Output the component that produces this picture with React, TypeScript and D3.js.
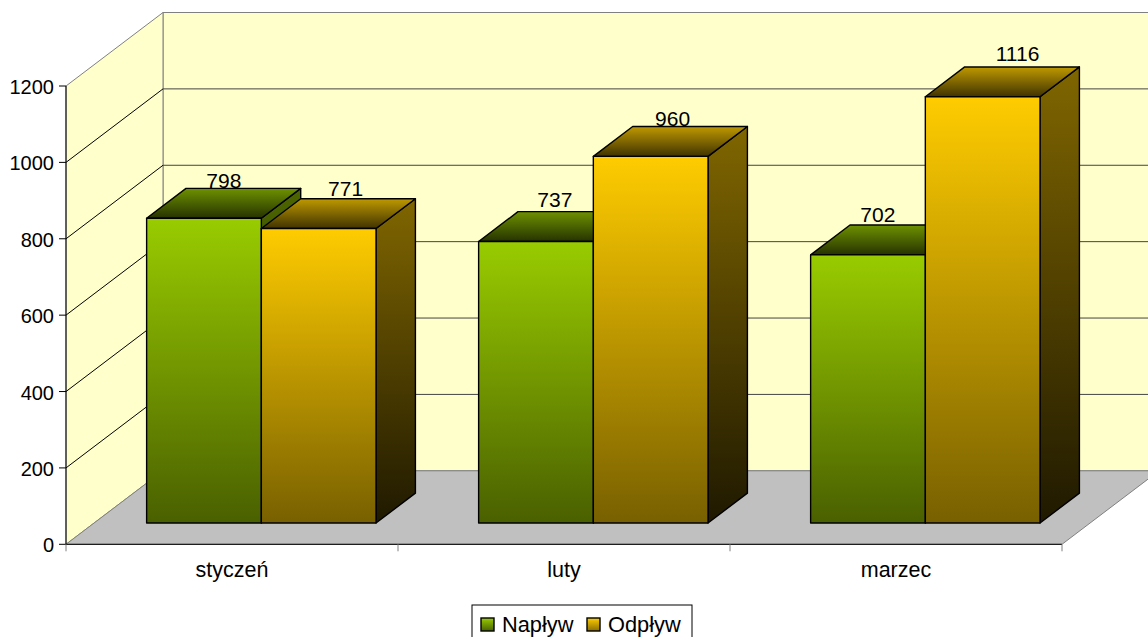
import React from "react";
import * as d3 from "d3";

const categories = ["styczeń", "luty", "marzec"];
const seriesNames = ["Napływ", "Odpływ"];
const napływ = [798, 737, 702];
const odpływ = [771, 960, 1116];
const yTicks = [0, 200, 400, 600, 800, 1000, 1200];
const labelNudgeX = [[0, 7], [-1, 2], [-10, 15]];
const labelNudgeY = [[0, -2], [-4, 0], [-3, -5]];

const W = 1148, H = 637;
const y = d3.scaleLinear().domain([0, 1200]).range([544.3, 86]);
const xBand = d3.scaleBand<string>().domain(categories).range([66, 1062]);
const depthX = d3.scaleLinear().domain([0, 1]).range([0, 97]);
const depthY = d3.scaleLinear().domain([0, 1]).range([0, -73.5]);
const barW = 114.7;
const barShift = 1.2;
const zFront = 0.29, zBack = 0.696;

type P = [number, number];
const proj = (x: number, v: number, z: number): P => [x + depthX(z), y(v) + depthY(z)];
const poly = d3.line<P>().x(d => d[0]).y(d => d[1]);
const path = (pts: P[]) => poly(pts) + "Z";

const palette = [
  { front: ["#99CC00", "#4A6000"], top: ["#6E9100", "#263300"], side: ["#4D6600", "#131A00"], swatch: ["#99CC00", "#4A6200"] },
  { front: ["#FFCC00", "#786000"], top: ["#BF9900", "#403300"], side: ["#806600", "#1F1900"], swatch: ["#FFCC00", "#8A6E00"] },
];
const values = [napływ, odpływ];
const font = "'Liberation Sans', Arial, sans-serif";

function Grad({ id, c }: { id: string; c: string[] }) {
  return (
    <linearGradient id={id} x1="0" y1="0" x2="0" y2="1">
      <stop offset="0" stopColor={c[0]} />
      <stop offset="1" stopColor={c[1]} />
    </linearGradient>
  );
}

export default function App() {
  const x0 = xBand.range()[0], x1 = xBand.range()[1];
  const yMax = 1200;
  return (
    <svg width={W} height={H} viewBox={`0 0 ${W} ${H}`} style={{ position: "absolute", left: 0, top: 0, display: "block" }} fontFamily={font}>
      <defs>
        {palette.map((p, i) => (
          <React.Fragment key={i}>
            <Grad id={`front${i}`} c={p.front} />
            <Grad id={`top${i}`} c={p.top} />
            <Grad id={`side${i}`} c={p.side} />
            <Grad id={`sw${i}`} c={p.swatch} />
          </React.Fragment>
        ))}
      </defs>
      <rect width={W} height={H} fill="#fff" />

      {/* walls and floor */}
      <path d={path([proj(x0, 0, 1), proj(x1, 0, 1), proj(x1, yMax, 1), proj(x0, yMax, 1)])} fill="#FFFFCC" stroke="#808080" strokeWidth={1} />
      <path d={path([proj(x0, 0, 0), proj(x0, 0, 1), proj(x0, yMax, 1), proj(x0, yMax, 0)])} fill="#FFFFCC" stroke="#808080" strokeWidth={1} />
      <path d={path([proj(x0, 0, 0), proj(x1, 0, 0), proj(x1, 0, 1), proj(x0, 0, 1)])} fill="#C0C0C0" stroke="#808080" strokeWidth={1} />

      {/* gridlines */}
      {yTicks.slice(1).map(t => (
        <g key={t} fill="none">
          {t < yMax && <path d={poly([proj(x0, t, 0), proj(x0, t, 1)])!} stroke="#000" strokeWidth={1} />}
          <path d={poly([proj(x0, t, 1), proj(x1, t, 1)])!} stroke={t < yMax ? "#444" : "#808080"} strokeWidth={1} />
        </g>
      ))}

      {/* axes */}
      <line x1={x0} x2={x0} y1={y(0)} y2={y(yMax)} stroke="#000" />
      <line x1={x0} x2={x1} y1={y(0)} y2={y(0)} stroke="#000" />
      {yTicks.map(t => (
        <g key={t}>
          <line x1={x0 - 7} x2={x0} y1={y(t)} y2={y(t)} stroke="#000" />
          <text x={x0 - 12} y={y(t) + 8} textAnchor="end" fontSize={20} fill="#000">{t}</text>
        </g>
      ))}
      {[...categories.map(c => xBand(c)!), x1].map((tx, i) => (
        <line key={i} x1={tx} x2={tx} y1={y(0)} y2={y(0) + 7} stroke="#808080" />
      ))}
      {categories.map(c => (
        <text key={c} x={xBand(c)! + xBand.bandwidth() / 2} y={577} textAnchor="middle" fontSize={21.5} fill="#000">{c}</text>
      ))}

      {/* bars */}
      {categories.map((c, ci) => {
        const cx = xBand(c)! + xBand.bandwidth() / 2 + barShift;
        return seriesNames.map((s, si) => {
          const v = values[si][ci];
          const l = cx - barW + si * barW, r = l + barW;
          const stroke = { stroke: "#000", strokeWidth: 1.4, strokeLinejoin: "round" as const };
          return (
            <g key={s}>
              <path d={path([proj(r, 0, zFront), proj(r, 0, zBack), proj(r, v, zBack), proj(r, v, zFront)])} fill={`url(#side${si})`} {...stroke} />
              <path d={path([proj(l, v, zFront), proj(r, v, zFront), proj(r, v, zBack), proj(l, v, zBack)])} fill={`url(#top${si})`} {...stroke} />
              <path d={path([proj(l, 0, zFront), proj(r, 0, zFront), proj(r, v, zFront), proj(l, v, zFront)])} fill={`url(#front${si})`} {...stroke} />
            </g>
          );
        });
      })}

      {/* value labels */}
      {categories.map((c, ci) => {
        const cx = xBand(c)! + xBand.bandwidth() / 2 + barShift;
        return seriesNames.map((s, si) => {
          const v = values[si][ci];
          const l = cx - barW + si * barW;
          const [px, py] = proj(l + barW / 2, v, zBack);
          return (
            <text key={s} x={px - 19.5 + labelNudgeX[ci][si]} y={py - 0.5 + labelNudgeY[ci][si]} textAnchor="middle" fontSize={21} fill="#000">{v}</text>
          );
        });
      })}

      {/* legend */}
      <rect x={472} y={605} width={220} height={40} fill="#fff" stroke="#000" strokeWidth={1} />
      {seriesNames.map((s, i) => {
        const sx = [481, 587][i];
        return (
          <g key={s}>
            <rect x={sx} y={618} width={13} height={13} fill={`url(#sw${i})`} stroke="#000" strokeWidth={1.4} />
            <text x={sx + 21} y={632} fontSize={21.8} fill="#000">{s}</text>
          </g>
        );
      })}
    </svg>
  );
}
